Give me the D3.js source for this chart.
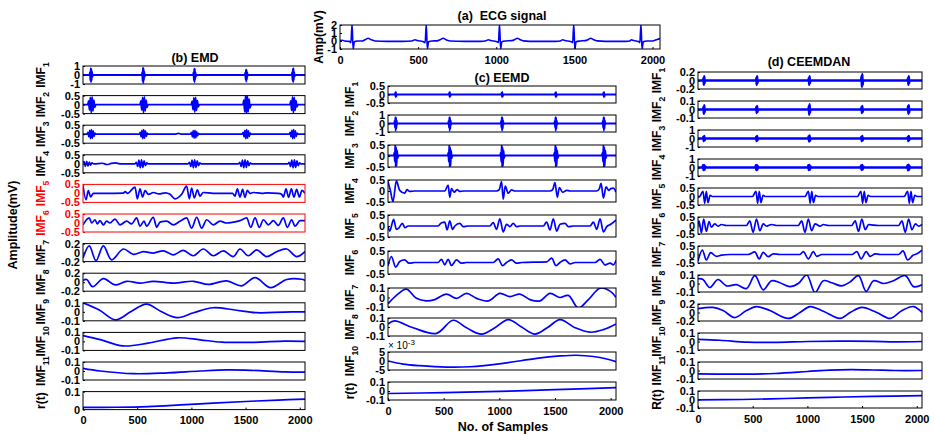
<!DOCTYPE html>
<html>
<head>
<meta charset="utf-8">
<script src="https://cdn.jsdelivr.net/npm/d3@7"></script>
<style>
  body { margin: 0; background: #fff; }
  svg text { font-family: "Liberation Sans", Arial, Helvetica, sans-serif; font-weight: bold; }
</style>
</head>
<body>
<svg id="chart" width="934" height="434"></svg>
<script>
// ======================= DATA (sample index, amplitude) =======================

const sampleTicks = [0, 500, 1000, 1500, 2000];

// (a) raw ECG
const ecgSignal = [[0,0.05],[15,0.1],[30,0.0],[60,-0.05],[70,-0.2],[77,2.1],[84,-1.0],[92,-0.1],[110,0.0],[140,0.0],[160,0.15],[180,0.35],[200,0.15],[225,0.0],[300,-0.05],[400,-0.05],[460,0.0],[480,0.15],[495,0.05],[530,-0.05],[545,-0.2],[552,2.1],[559,-1.0],[567,-0.1],[590,0.0],[620,0.02],[640,0.15],[660,0.35],[680,0.15],[705,0.0],[800,-0.05],[900,-0.05],[930,0.0],[950,0.15],[965,0.05],[1000,-0.05],[1014,-0.2],[1021,2.1],[1028,-1.0],[1036,-0.1],[1060,0.0],[1100,0.05],[1120,0.2],[1135,0.35],[1150,0.2],[1175,0.02],[1250,-0.05],[1380,-0.05],[1410,0.0],[1425,0.15],[1440,0.05],[1475,-0.05],[1489,-0.2],[1496,2.1],[1503,-1.0],[1511,-0.1],[1535,0.0],[1570,0.05],[1590,0.2],[1605,0.35],[1620,0.2],[1645,0.02],[1750,-0.05],[1830,-0.05],[1855,0.0],[1865,0.15],[1880,0.05],[1910,-0.05],[1919,-0.2],[1926,2.1],[1933,-1.0],[1941,-0.1],[1965,0.0],[2000,0.0],[2030,0.2],[2048,0.3]];
const ecgTicks = [-1, 0, 1, 2];

// (b) EMD
const emdImf1 = [[0,0],[60,0],[65,0.3],[68,-0.6],[71,0.75],[74,-0.8],[77,0.7],[80,-0.6],[83,0.4],[87,-0.2],[93,0],[542,0],[547,0.3],[550,-0.7],[553,0.8],[556,-0.9],[559,0.75],[562,-0.6],[565,0.4],[569,-0.2],[575,0],[1015,0],[1020,0.3],[1023,-0.6],[1026,0.7],[1029,-0.8],[1032,0.7],[1035,-0.5],[1038,0.3],[1042,-0.15],[1048,0],[1492,0],[1497,0.25],[1500,-0.5],[1503,0.6],[1506,-0.75],[1509,0.6],[1512,-0.5],[1515,0.3],[1519,-0.1],[1525,0],[1925,0],[1930,0.3],[1933,-0.6],[1936,0.7],[1939,-0.8],[1942,0.75],[1945,-0.55],[1948,0.35],[1952,-0.15],[1958,0],[2048,0]];
const emdImf2 = [[0,0],[44,0],[52,0.2],[60,-0.3],[68,0.4],[76,-0.45],[84,0.42],[92,-0.35],[100,0.25],[108,-0.15],[118,0],[526,0],[534,0.2],[542,-0.3],[550,0.4],[558,-0.45],[566,0.42],[574,-0.35],[582,0.25],[590,-0.15],[600,0],[999,0],[1007,0.18],[1015,-0.28],[1023,0.38],[1031,-0.42],[1039,0.4],[1047,-0.32],[1055,0.22],[1063,-0.12],[1073,0],[1476,0],[1484,0.25],[1492,-0.4],[1500,0.5],[1508,-0.55],[1516,0.5],[1524,-0.4],[1532,0.3],[1540,-0.18],[1550,0],[1909,0],[1917,0.2],[1925,-0.32],[1933,0.42],[1941,-0.45],[1949,0.4],[1957,-0.32],[1965,0.22],[1973,-0.12],[1983,0],[2048,0]];
const emdImf3 = [[0,0],[38,0],[46,0.1],[54,-0.15],[62,0.22],[70,-0.25],[78,0.25],[86,-0.22],[94,0.18],[102,-0.12],[110,0.06],[120,0],[520,0],[528,0.1],[536,-0.15],[544,0.22],[552,-0.25],[560,0.25],[568,-0.22],[576,0.18],[584,-0.12],[592,0.06],[602,0],[850,0],[880,0.05],[910,0],[993,0],[1001,0.1],[1009,-0.15],[1017,0.2],[1025,-0.22],[1033,0.22],[1041,-0.2],[1049,0.15],[1057,-0.1],[1065,0.05],[1075,0],[1470,0],[1478,0.1],[1486,-0.15],[1494,0.22],[1502,-0.25],[1510,0.25],[1518,-0.22],[1526,0.18],[1534,-0.12],[1542,0.06],[1552,0],[1903,0],[1911,0.1],[1919,-0.15],[1927,0.22],[1935,-0.25],[1943,0.25],[1951,-0.22],[1959,0.18],[1967,-0.12],[1975,0.06],[1985,0],[2048,0]];
const emdImf4 = [[0,0.05],[10,0.12],[22,-0.15],[34,0.14],[46,-0.13],[58,0.1],[70,-0.08],[82,0.05],[100,0],[180,0.03],[220,-0.04],[260,0.02],[300,0.05],[340,0],[480,0],[492,0.08],[504,-0.15],[516,0.2],[528,-0.22],[540,0.22],[552,-0.2],[564,0.16],[576,-0.1],[588,0.05],[600,0],[970,0],[982,0.08],[994,-0.15],[1006,0.2],[1018,-0.22],[1030,0.22],[1042,-0.2],[1054,0.16],[1066,-0.1],[1078,0.05],[1090,0],[1435,0],[1447,0.08],[1459,-0.15],[1471,0.2],[1483,-0.22],[1495,0.22],[1507,-0.2],[1519,0.16],[1531,-0.1],[1543,0.05],[1555,0],[1890,0],[1902,0.08],[1914,-0.15],[1926,0.2],[1938,-0.22],[1950,0.22],[1962,-0.2],[1974,0.16],[1986,-0.1],[1998,0.05],[2010,0],[2048,0]];
const emdImf5 = [[0,0.45],[28,-0.35],[49,0.15],[71,-0.2],[95,0.0],[200,0.0],[372,0.02],[390,0.1],[410,0.0],[480,0.35],[501,-0.3],[526,0.25],[550,-0.2],[572,0.15],[603,-0.05],[650,0.05],[700,-0.03],[760,0.03],[803,-0.05],[849,-0.3],[910,-0.05],[956,0.4],[981,-0.3],[1002,0.3],[1027,-0.25],[1055,0.2],[1079,-0.15],[1110,0.05],[1200,0.0],[1380,0.0],[1402,-0.15],[1424,0.25],[1448,-0.2],[1473,0.22],[1494,-0.22],[1516,0.17],[1540,0.0],[1571,0.05],[1650,0.0],[1700,0.03],[1800,0.0],[1833,-0.05],[1848,-0.2],[1873,0.25],[1897,-0.22],[1922,0.25],[1946,-0.2],[1971,0.22],[1996,-0.2],[2020,0.17],[2048,0.0]];
const emdImf6 = [[0,-0.1],[58,0.28],[80,0],[111,0.18],[132,-0.05],[157,0.13],[188,-0.1],[218,0.1],[249,0],[295,0.22],[341,-0.1],[403,0.1],[449,-0.05],[495,0.28],[526,-0.18],[563,0.1],[587,-0.18],[649,0.32],[680,-0.24],[710,0.05],[772,0.1],[833,-0.1],[895,0.1],[956,0.28],[1002,-0.28],[1049,0.32],[1095,-0.28],[1141,0.18],[1202,-0.1],[1264,0.1],[1325,0],[1387,0.05],[1448,0.13],[1510,0.28],[1547,-0.24],[1587,0.28],[1627,-0.24],[1664,0.18],[1710,-0.1],[1756,0.13],[1802,-0.13],[1848,0.28],[1885,-0.24],[1925,0.18],[1956,-0.18],[2002,0.13],[2048,0.13]];
const emdImf7 = [[0,-0.12],[58,0.15],[120,-0.18],[188,0.15],[264,-0.16],[372,0.08],[464,-0.04],[557,0.02],[649,-0.01],[741,0.04],[833,-0.05],[926,0.05],[1018,-0.07],[1110,0.08],[1202,-0.07],[1295,0.04],[1387,-0.09],[1448,0.08],[1525,-0.07],[1602,0.06],[1694,-0.09],[1787,0.02],[1879,0.08],[1971,-0.09],[2048,0.02]];
const emdImf8 = [[0,0.04],[34,0.06],[89,-0.1],[188,0.08],[295,-0.06],[403,0.02],[526,-0.02],[649,0.02],[833,-0.02],[1018,0.02],[1156,-0.05],[1325,0.03],[1464,-0.08],[1587,0.1],[1731,-0.12],[1879,0.06],[2017,0.065],[2048,0.04]];
const emdImf9 = [[0,0.1],[150,0.02],[300,-0.09],[440,0.0],[585,0.085],[725,0.0],[870,-0.065],[1020,-0.01],[1200,0.045],[1400,0.02],[1600,-0.01],[1850,-0.003],[2048,0]];
const emdImf10 = [[0,0.065],[160,0.02],[370,-0.05],[600,-0.02],[870,0.04],[1080,0.018],[1280,-0.008],[1580,-0.01],[1860,0.003],[2048,0.0]];
const emdImf11 = [[0,0.03],[160,0.0],[470,-0.03],[780,-0.02],[1080,0.0],[1330,0.012],[1550,0.008],[1860,-0.01],[2048,-0.012]];
const emdResidue = [[0,0.012],[300,0.013],[600,0.017],[900,0.026],[1200,0.036],[1500,0.045],[1800,0.053],[2048,0.058]];

const emdSeries = [emdImf1, emdImf2, emdImf3, emdImf4, emdImf5, emdImf6, emdImf7, emdImf8, emdImf9, emdImf10, emdImf11, emdResidue];
const emdLabels = ["IMF_1","IMF_2","IMF_3","IMF_4","IMF_5","IMF_6","IMF_7","IMF_8","IMF_9","IMF_10","IMF_11","r(t)"];
const emdTicks = [[-1,0,1],[-0.5,0,0.5],[-0.5,0,0.5],[-0.5,0,0.5],[-0.5,0,0.5],[-0.5,0,0.5],[-0.2,0,0.2],[-0.2,0,0.2],[-0.1,0,0.1],[-0.1,0,0.1],[-0.1,0,0.1],[0,0.1]];
const emdHighlighted = [4, 5];   // IMF5, IMF6 drawn in red

// (c) EEMD
const eemdImf1 = [[0,0],[60,0],[65,0.1],[68,-0.15],[71,0.15],[74,-0.12],[79,0],[545,0],[550,0.1],[553,-0.15],[556,0.15],[559,-0.12],[564,0],[1016,0],[1021,0.1],[1024,-0.15],[1027,0.15],[1030,-0.12],[1035,0],[1498,0],[1503,0.1],[1506,-0.15],[1509,0.15],[1512,-0.12],[1517,0],[1930,0],[1935,0.1],[1938,-0.15],[1941,0.15],[1944,-0.12],[1949,0],[2048,0]];
const eemdImf2 = [[0,0],[56,0],[60,0.3],[63,-0.5],[66,0.75],[69,-0.85],[72,0.7],[75,-0.6],[78,0.35],[82,-0.1],[87,0],[541,0],[545,0.3],[548,-0.5],[551,0.75],[554,-0.85],[557,0.7],[560,-0.6],[563,0.35],[567,-0.1],[572,0],[1012,0],[1016,0.3],[1019,-0.5],[1022,0.75],[1025,-0.85],[1028,0.7],[1031,-0.6],[1034,0.35],[1038,-0.1],[1043,0],[1494,0],[1498,0.3],[1501,-0.5],[1504,0.75],[1507,-0.85],[1510,0.7],[1513,-0.6],[1516,0.35],[1520,-0.1],[1525,0],[1926,0],[1930,0.3],[1933,-0.5],[1936,0.75],[1939,-0.85],[1942,0.7],[1945,-0.6],[1948,0.35],[1952,-0.1],[1957,0],[2048,0]];
const eemdImf3 = [[0,0.02],[52,0.02],[57,0.15],[61,-0.25],[65,0.55],[69,-0.5],[73,0.4],[77,-0.45],[82,0.25],[87,-0.1],[94,0.02],[537,0.02],[542,0.15],[546,-0.25],[550,0.5],[554,-0.5],[558,0.4],[562,-0.45],[567,0.25],[572,-0.1],[579,0.02],[1008,0.02],[1013,0.15],[1017,-0.25],[1021,0.5],[1025,-0.5],[1029,0.4],[1033,-0.45],[1038,0.25],[1043,-0.1],[1050,0.02],[1490,0.02],[1495,0.15],[1499,-0.25],[1503,0.5],[1507,-0.5],[1511,0.4],[1515,-0.45],[1520,0.25],[1525,-0.1],[1532,0.02],[1922,0.02],[1927,0.15],[1931,-0.25],[1935,0.5],[1939,-0.55],[1943,0.4],[1947,-0.45],[1952,0.25],[1957,-0.1],[1964,0.02],[2048,0.02]];
const eemdImf4 = [[0,0.43],[21,0.03],[45,-0.48],[75,0.46],[105,0.03],[150,-0.1],[171,0.06],[195,-0.02],[240,0],[510,0],[540,0.27],[555,-0.29],[570,0.11],[594,-0.05],[621,0.06],[645,-0.02],[675,0],[975,0],[999,0.06],[1020,0.43],[1035,-0.37],[1053,0.22],[1080,-0.1],[1110,0.05],[1140,0],[1455,0],[1479,0.06],[1500,0.38],[1521,-0.29],[1539,0.16],[1569,-0.06],[1605,0.03],[1635,0],[1875,0],[1899,0.11],[1914,0.35],[1935,-0.32],[1959,0.19],[1983,0.03],[2001,0.11],[2025,0.13],[2048,-0.05]];
const eemdImf5 = [[0,0],[15,-0.23],[51,0.3],[75,-0.15],[99,-0.08],[129,0.12],[153,-0.08],[180,0],[450,0],[480,0.15],[510,0.18],[531,-0.18],[555,0.23],[579,-0.15],[600,0],[645,0.12],[675,-0.03],[720,0],[915,0],[945,0.15],[975,-0.15],[1005,0.33],[1035,-0.27],[1065,0.08],[1095,-0.03],[1125,0.12],[1155,-0.03],[1185,0],[1395,0],[1425,0.18],[1455,-0.18],[1485,0.33],[1515,-0.23],[1545,0.08],[1590,0.12],[1620,-0.03],[1665,0],[1815,0],[1845,0.18],[1875,-0.15],[1905,0.33],[1935,-0.27],[1965,-0.03],[2001,0.08],[2048,0.27]];
const eemdImf6 = [[0,-0.14],[30,0.26],[69,-0.2],[105,0.04],[150,0.11],[189,-0.03],[240,0],[450,0],[480,0.14],[510,-0.1],[540,0.14],[570,-0.13],[615,0.11],[660,-0.03],[705,0],[945,0],[990,0.16],[1029,-0.14],[1065,0],[1110,0.11],[1155,-0.03],[1200,0],[1425,0.03],[1470,0.19],[1509,-0.14],[1545,0],[1590,0.11],[1635,-0.06],[1680,0],[1860,0],[1905,0.14],[1950,-0.11],[1995,-0.03],[2025,-0.1],[2048,0.09]];
const eemdImf7 = [[0,-0.067],[75,0.022],[165,0.089],[255,-0.009],[345,-0.036],[420,-0.022],[525,0.036],[615,-0.009],[705,0.044],[795,-0.009],[900,-0.036],[1005,0.044],[1095,0.009],[1185,0.036],[1275,-0.022],[1365,-0.036],[1455,0.044],[1545,0],[1620,0.022],[1710,-0.11],[1800,-0.022],[1905,0.098],[1995,0.067],[2048,0]];
const eemdImf8 = [[0,0.033],[60,0.067],[225,-0.008],[435,-0.071],[585,0.075],[705,-0.008],[840,-0.079],[960,-0.008],[1080,0.083],[1200,0],[1320,-0.079],[1440,0],[1545,0.083],[1680,-0.008],[1815,-0.058],[1935,-0.029],[2048,0.033]];
const eemdImf10 = [[0,0],[135,-1.7],[285,-2.6],[525,-3.4],[735,-3.2],[1035,-1.3],[1335,1.5],[1545,2.8],[1695,3.2],[1845,2.5],[1965,1.1],[2048,-0.4]];   // in units of 1e-3
const eemdResidue = [[0,-0.028],[500,-0.018],[1000,-0.005],[1500,0.015],[2048,0.038]];

const eemdSeries = [eemdImf1, eemdImf2, eemdImf3, eemdImf4, eemdImf5, eemdImf6, eemdImf7, eemdImf8, eemdImf10, eemdResidue];
const eemdLabels = ["IMF_1","IMF_2","IMF_3","IMF_4","IMF_5","IMF_6","IMF_7","IMF_8","IMF_10","r(t)"];
const eemdTicks = [[-0.5,0,0.5],[-1,0,1],[-0.5,0,0.5],[-0.5,0,0.5],[-0.5,0,0.5],[-0.5,0,0.5],[-0.1,0,0.1],[-0.1,0,0.1],[-5,0,5],[-0.1,0,0.1]];

// (d) CEEMDAN
const ceemdanImf1 = [[0,0],[47,0],[51,0.06],[54,-0.1],[57,0.1],[60,-0.06],[64,0],[530,0],[534,0.06],[537,-0.1],[540,0.1],[543,-0.06],[547,0],[1010,0],[1014,0.06],[1017,-0.1],[1020,0.1],[1023,-0.06],[1027,0],[1492,0],[1496,0.1],[1499,-0.15],[1502,0.15],[1505,-0.1],[1509,0],[1917,0],[1921,0.06],[1924,-0.1],[1927,0.1],[1930,-0.06],[1934,0],[2048,0]];
const ceemdanImf2 = [[0,0],[47,0],[51,0.03],[54,-0.05],[57,0.05],[60,-0.03],[64,0],[530,0],[534,0.03],[537,-0.04],[540,0.04],[543,-0.03],[547,0],[1010,0],[1014,0.04],[1017,-0.06],[1020,0.06],[1023,-0.04],[1027,0],[1492,0],[1496,0.03],[1499,-0.04],[1502,0.04],[1505,-0.03],[1509,0],[1917,0],[1921,0.04],[1924,-0.05],[1927,0.05],[1930,-0.04],[1934,0],[2048,0]];
const ceemdanImf3 = [[0,0],[45,0],[49,0.2],[53,-0.3],[57,0.3],[61,-0.2],[65,0],[528,0],[532,0.2],[536,-0.3],[540,0.3],[544,-0.2],[548,0],[1008,0],[1012,0.25],[1016,-0.35],[1020,0.35],[1024,-0.25],[1028,0],[1490,0],[1494,0.2],[1498,-0.3],[1502,0.3],[1506,-0.2],[1510,0],[1915,0],[1919,0.2],[1923,-0.3],[1927,0.3],[1931,-0.2],[1935,0],[2048,0]];
const ceemdanImf4 = [[0,0],[41,0],[46,0.25],[51,-0.3],[56,0.3],[61,-0.25],[66,0.15],[71,0],[524,0],[529,0.25],[534,-0.3],[539,0.3],[544,-0.25],[549,0.15],[554,0],[1004,0],[1009,0.25],[1014,-0.3],[1019,0.3],[1024,-0.25],[1029,0.15],[1034,0],[1486,0],[1491,0.22],[1496,-0.28],[1501,0.28],[1506,-0.22],[1511,0.12],[1516,0],[1911,0],[1916,0.25],[1921,-0.32],[1926,0.32],[1931,-0.25],[1936,0.15],[1941,0],[2048,0]];
const ceemdanImf5 = [[0,0],[16,0],[31,0.17],[46,0.31],[61,-0.4],[76,0.31],[91,-0.36],[111,0.07],[131,0],[500,0],[515,0.17],[530,0.31],[545,-0.4],[560,0.31],[575,-0.36],[595,0.07],[615,0],[980,0],[995,0.17],[1010,0.31],[1025,-0.4],[1040,0.31],[1055,-0.36],[1075,0.07],[1095,0],[1460,0],[1475,0.17],[1490,0.31],[1505,-0.4],[1520,0.31],[1535,-0.36],[1555,0.07],[1575,0],[1887,0],[1902,0.17],[1917,0.31],[1932,-0.4],[1947,0.31],[1962,-0.36],[1982,0.07],[2002,0],[2048,0]];
const ceemdanImf6 = [[0,0.05],[9,0.27],[31,-0.42],[52,0.38],[76,-0.35],[101,0.23],[122,-0.1],[153,0.1],[183,-0.04],[214,0.06],[260,0],[443,0],[474,0.27],[504,-0.4],[535,0.38],[566,-0.31],[596,0.1],[627,-0.04],[673,0.06],[718,0],[917,0],[948,0.27],[978,-0.4],[1009,0.38],[1039,-0.31],[1070,0.1],[1116,-0.04],[1146,0.06],[1192,0],[1406,0],[1437,0.27],[1467,-0.35],[1498,0.38],[1529,-0.25],[1559,0.06],[1605,0.02],[1651,0],[1834,0],[1865,0.27],[1895,-0.4],[1926,0.38],[1956,-0.25],[1987,0.1],[2018,-0.04],[2048,0.06]];
const ceemdanImf7 = [[0,-0.38],[40,0.26],[76,-0.32],[116,0.11],[168,-0.11],[214,-0.04],[290,0],[459,0],[520,0.15],[559,-0.26],[596,0.13],[642,-0.13],[688,0.04],[749,0],[932,0],[963,0.17],[1009,-0.26],[1055,0.17],[1085,-0.11],[1131,0],[1406,0],[1452,0.17],[1492,-0.26],[1538,0.17],[1574,-0.11],[1620,0.04],[1666,0],[1834,0],[1874,0.21],[1917,-0.32],[1966,-0.04],[2002,0.04],[2048,0.26]];
const ceemdanImf8 = [[0,0.056],[46,0.047],[107,-0.047],[183,0.047],[260,-0.028],[352,-0.014],[443,-0.06],[520,0.093],[596,-0.074],[673,0.033],[749,0.009],[841,-0.037],[917,0],[994,0.1],[1070,-0.107],[1146,0.033],[1223,0.009],[1315,-0.028],[1391,0.019],[1467,0.093],[1538,-0.093],[1605,0.033],[1697,0],[1788,0.033],[1895,0.093],[1972,-0.037],[2048,-0.014]];
const ceemdanImf9 = [[0,0.093],[138,0.12],[229,0.047],[336,-0.12],[443,0.047],[535,0.14],[657,0.047],[825,-0.14],[932,0],[1024,0.14],[1146,0.028],[1299,-0.14],[1391,0],[1498,0.12],[1635,0],[1758,-0.14],[1865,0.047],[1972,0.14],[2048,0]];
const ceemdanImf10 = [[0,0.025],[200,0.015],[450,-0.008],[700,-0.01],[1000,0.0],[1300,0.004],[1600,0.002],[1800,-0.004],[2048,0.0]];
const ceemdanImf11 = [[0,-0.04],[400,-0.042],[700,-0.035],[1000,-0.012],[1200,0.004],[1400,0.01],[1600,0.006],[1800,0.0],[2048,0.0]];
const ceemdanResidue = [[0,-0.005],[400,0.0],[800,0.012],[1200,0.025],[1600,0.037],[2048,0.045]];

const ceemdanSeries = [ceemdanImf1, ceemdanImf2, ceemdanImf3, ceemdanImf4, ceemdanImf5, ceemdanImf6, ceemdanImf7, ceemdanImf8, ceemdanImf9, ceemdanImf10, ceemdanImf11, ceemdanResidue];
const ceemdanLabels = ["IMF_1","IMF_2","IMF_3","IMF_4","IMF_5","IMF_6","IMF_7","IMF_8","IMF_9","IMF_10","IMF_11","R(t)"];
const ceemdanTicks = [[-0.2,0,0.2],[-0.1,0,0.1],[-1,0,1],[-1,0,1],[-0.5,0,0.5],[-0.5,0,0.5],[-0.5,0,0.5],[-0.1,0,0.1],[-0.2,0,0.2],[-0.1,0,0.1],[-0.1,0,0.1],[-0.1,0,0.1]];

// ======================= LAYOUT =======================
const LINE_COLOR = "#0000ff";
const TICK_FONT = 11;
const LABEL_FONT = 12;

const svg = d3.select("#chart");
let clipCount = 0;

function rotatedLabel(x, y, label, color, size) {
  const parts = label.split("_");
  const t = svg.append("text")
    .attr("transform", `translate(${x},${y}) rotate(-90)`)
    .attr("text-anchor", "middle")
    .attr("fill", color)
    .attr("font-size", size);
  t.append("tspan").text(parts[0]);
  if (parts[1]) {
    t.append("tspan").attr("font-size", size * 0.72).attr("dy", "0.45em").text(parts[1]);
  }
}

function drawPanel(p) {
  const color = p.color || "#000";
  const x = d3.scaleLinear().domain([0, 2048]).range([p.x0, p.x1]);
  const y = d3.scaleLinear().domain(p.domain).range([p.top + p.height, p.top]);
  const id = "clip" + (clipCount++);

  svg.append("clipPath").attr("id", id)
    .append("rect")
    .attr("x", p.x0).attr("y", p.top)
    .attr("width", p.x1 - p.x0).attr("height", p.height);

  // bursty components keep sharp turns, slow ones get a smooth curve
  const curve = p.smooth ? d3.curveCatmullRom.alpha(0.5) : d3.curveMonotoneX;

  svg.append("path")
    .datum(p.data)
    .attr("clip-path", `url(#${id})`)
    .attr("fill", "none")
    .attr("stroke", LINE_COLOR)
    .attr("stroke-width", p.strokeWidth || 1.7)
    .attr("stroke-linejoin", "round")
    .attr("d", d3.line().x(d => x(d[0])).y(d => y(d[1])).curve(curve));

  // y axis: MATLAB style inward ticks
  const ya = svg.append("g")
    .attr("transform", `translate(${p.x0},0)`)
    .call(d3.axisLeft(y).tickValues(p.ticks).tickSize(-2).tickPadding(3).tickFormat(d => String(d)));
  ya.select(".domain").remove();
  ya.selectAll("line").attr("stroke", color);
  ya.selectAll("text").attr("fill", color).attr("font-size", TICK_FONT);

  svg.append("rect")
    .attr("x", p.x0).attr("y", p.top)
    .attr("width", p.x1 - p.x0).attr("height", p.height)
    .attr("fill", "none")
    .attr("stroke", color)
    .attr("stroke-width", 1);

  if (p.xAxis) {
    const xa = svg.append("g")
      .attr("transform", `translate(0,${p.top + p.height})`)
      .call(d3.axisBottom(x).tickValues(sampleTicks).tickSize(-2).tickPadding(7).tickFormat(d3.format("d")));
    xa.select(".domain").remove();
    xa.selectAll("text").attr("fill", "#000").attr("font-size", TICK_FONT);
  }

  rotatedLabel(p.labelX, p.top + p.height / 2, p.label, color, LABEL_FONT);
}

// (a) ECG
drawPanel({ x0: 340, x1: 660, top: 25, height: 24, domain: [-1, 2], ticks: ecgTicks,
  data: ecgSignal, label: "Amp(mV)", labelX: 323, xAxis: true, strokeWidth: 1.6 });

// (b) EMD column
emdSeries.forEach((data, i) => {
  const t = emdTicks[i];
  drawPanel({
    x0: 83, x1: 305, top: 66 + i * 29.6, height: 18,
    domain: [t[0], t[t.length - 1]], ticks: t, data,
    label: emdLabels[i], labelX: 45,
    color: emdHighlighted.includes(i) ? "#ff0000" : "#000",
    strokeWidth: i < 2 ? 1.9 : 1.7,
    smooth: i >= 6,
    xAxis: i === emdSeries.length - 1
  });
});

// (c) EEMD column
const eemdTops = [86, 115, 145, 180, 215, 251, 288, 318, 352, 382];
const eemdHeights = [17, 17, 22, 22, 22, 23, 19, 18, 18, 18];
eemdSeries.forEach((data, i) => {
  const t = eemdTicks[i];
  drawPanel({
    x0: 388, x1: 616, top: eemdTops[i], height: eemdHeights[i],
    domain: [t[0], t[t.length - 1]], ticks: t, data,
    label: eemdLabels[i], labelX: 354,
    strokeWidth: i < 3 ? 1.9 : 1.7,
    smooth: i >= 6,
    xAxis: i === eemdSeries.length - 1
  });
});

// (d) CEEMDAN column
ceemdanSeries.forEach((data, i) => {
  const t = ceemdanTicks[i];
  drawPanel({
    x0: 698, x1: 922, top: 72 + i * 29, height: 17,
    domain: [t[0], t[t.length - 1]], ticks: t, data,
    label: ceemdanLabels[i], labelX: 661,
    strokeWidth: i < 4 ? 2.6 : 1.7,
    smooth: i >= 7,
    xAxis: i === ceemdanSeries.length - 1
  });
});

// exponent note on EEMD IMF10
const expo = svg.append("text").attr("x", 388).attr("y", 349)
  .attr("font-size", 10).style("font-weight", "normal");
expo.append("tspan").text("\u00d7 10");
expo.append("tspan").attr("font-size", 8).attr("dy", "-0.45em").text("-3");

// titles
const titles = [
  { text: "(a)\u00a0\u00a0ECG signal", x: 502, y: 20 },
  { text: "(b) EMD", x: 195, y: 62 },
  { text: "(c) EEMD", x: 502, y: 82 },
  { text: "(d) CEEMDAN", x: 809, y: 66 }
];
titles.forEach(t => {
  svg.append("text").attr("x", t.x).attr("y", t.y)
    .attr("text-anchor", "middle").attr("font-size", 12.5).text(t.text);
});

svg.append("text").attr("x", 503).attr("y", 431)
  .attr("text-anchor", "middle").attr("font-size", 12.5).text("No. of Samples");

svg.append("text")
  .attr("transform", "translate(17,225) rotate(-90)")
  .attr("text-anchor", "middle").attr("font-size", 12.5).text("Amplitude(mV)");
</script>
</body>
</html>
